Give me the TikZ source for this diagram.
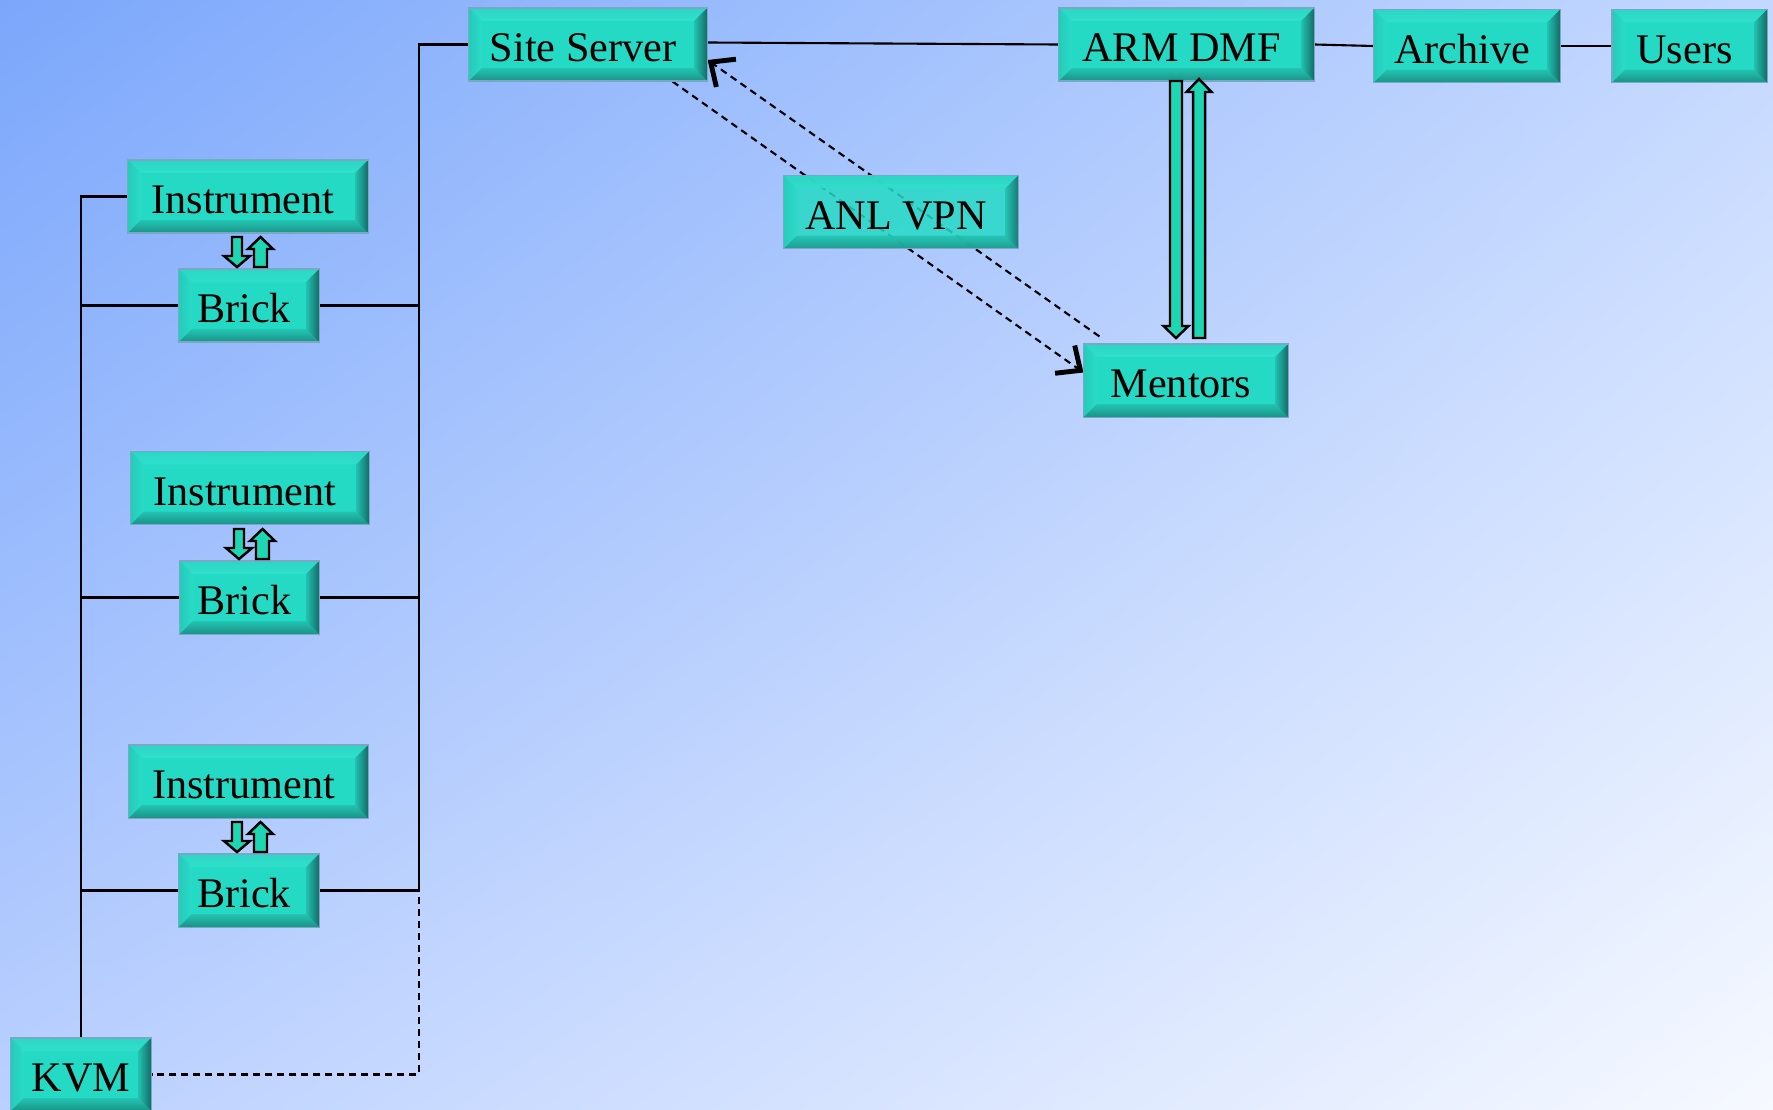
\documentclass[tikz,border=0pt]{standalone}
\usepackage{fontspec}
\setmainfont{Liberation Serif}
\usetikzlibrary{arrows.meta,calc,shadings}
\definecolor{boxfill}{HTML}{25DAC5}
\definecolor{bevtopO}{HTML}{2CD6C4}
\definecolor{bevtopM}{HTML}{5EF5EC}
\definecolor{bevtopI}{HTML}{30DFCD}
\definecolor{bevleftO}{HTML}{24CCB9}
\definecolor{bevleftI}{HTML}{2ADBC8}
\definecolor{bevbotI}{HTML}{22C4B2}
\definecolor{bevbotO}{HTML}{1A9286}
\definecolor{bevrightI}{HTML}{22C2B1}
\definecolor{bevrightO}{HTML}{146C66}
\definecolor{boxedge}{HTML}{78A8C4}
\definecolor{arrfill}{HTML}{1FD6B2}
\definecolor{bgtl}{HTML}{7BA7FB}
\definecolor{bgtr}{HTML}{C4D8FF}
\definecolor{bgbl}{HTML}{BAD0FF}
\definecolor{bgbr}{HTML}{F6F9FF}
\pgfdeclarelayer{bgl}
\pgfdeclarelayer{mid}
\pgfsetlayers{bgl,mid,main}
\tikzset{
  bx/.style={rectangle, draw=boxedge, line width=0.3pt, fill=boxfill,
    inner sep=0pt, minimum height=0.73cm, text height=0.34cm, text depth=0cm,
    font=\fontsize{12}{14}\selectfont,
    execute at begin node={\kern-0.1cm},
    path picture={
      \coordinate (ppnw) at (path picture bounding box.north west);
      \coordinate (ppne) at (path picture bounding box.north east);
      \coordinate (ppsw) at (path picture bounding box.south west);
      \coordinate (ppse) at (path picture bounding box.south east);
      \shade[top color=bevtopO, middle color=bevtopM, bottom color=bevtopI] (ppnw) -- (ppne) -- ([shift={(-0.13cm,-0.13cm)}]ppne) -- ([shift={(0.13cm,-0.13cm)}]ppnw) -- cycle;
      \shade[left color=bevleftO, right color=bevleftI] (ppnw) -- ([shift={(0.13cm,-0.13cm)}]ppnw) -- ([shift={(0.13cm,0.13cm)}]ppsw) -- (ppsw) -- cycle;
      \shade[top color=bevbotI, bottom color=bevbotO] (ppsw) -- ([shift={(0.13cm,0.13cm)}]ppsw) -- ([shift={(-0.13cm,0.13cm)}]ppse) -- (ppse) -- cycle;
      \shade[left color=bevrightI, right color=bevrightO] (ppne) -- ([shift={(-0.13cm,-0.13cm)}]ppne) -- ([shift={(-0.13cm,0.13cm)}]ppse) -- (ppse) -- cycle;
    }},
  conn/.style={draw=black, line width=0.6pt},
  dconn/.style={draw=black, line width=0.6pt, dash pattern=on 0.07cm off 0.05cm},
  blk/.style={fill=arrfill, draw=black, line width=0.7pt, line join=miter},
  barb/.style={-{Straight Barb[length=0.19cm, width=0.34cm, line width=1.4pt]}}
}
% #1 x, #2 tail y, #3 tip y, #4 shaft half width, #5 head half width, #6 head length (signed)
\newcommand\blkarr[6]{%
  \pgfmathsetmacro\bxa{#1-#4}%
  \pgfmathsetmacro\bxb{#1+#4}%
  \pgfmathsetmacro\bxc{#1-#5}%
  \pgfmathsetmacro\bxd{#1+#5}%
  \pgfmathsetmacro\byh{#3-(#6)}%
  \draw[blk] (\bxa,#2) -- (\bxa,\byh) -- (\bxc,\byh) -- (#1,#3) -- (\bxd,\byh) -- (\bxb,\byh) -- (\bxb,#2) -- cycle;}
\begin{document}
\begin{tikzpicture}[x=0.01cm, y=-0.01cm]
\useasboundingbox (0,0) rectangle (1773,1109);
\begin{pgfonlayer}{bgl}
\shade[upper left=bgtl, upper right=bgtr, lower left=bgbl, lower right=bgbr] (0,0) rectangle (1773,1109);
\end{pgfonlayer}

% nodes
\node[bx, minimum width=2.38cm] (site) at (588,44.5) {Site Server};
\node[bx, minimum width=2.55cm] (arm) at (1186.5,44.5) {ARM DMF};
\node[bx, minimum width=1.86cm] (archive) at (1467,46) {Archive};
\node[bx, minimum width=1.55cm] (users) at (1689.5,46) {Users};
\node[bx, minimum width=2.34cm, fill opacity=0.85, text opacity=1] (vpn) at (901,212) {ANL VPN};
\node[bx, minimum width=2.04cm] (mentors) at (1186,380.5) {Mentors};
\node[bx, minimum width=2.40cm] (inst1) at (248,196.5) {Instrument};
\node[bx, minimum width=1.40cm] (brick1) at (249,305.5) {Brick};
\node[bx, minimum width=2.38cm] (inst2) at (250,488) {Instrument};
\node[bx, minimum width=1.39cm] (brick2) at (249.5,597.5) {Brick};
\node[bx, minimum width=2.39cm] (inst3) at (248.5,781.5) {Instrument};
\node[bx, minimum width=1.40cm] (brick3) at (249,890.5) {Brick};
\node[bx, minimum width=1.40cm] (kvm) at (81,1074.5) {\kern0.1cm KVM};

\coordinate (rb) at (419,885);

\begin{pgfonlayer}{mid}
% left bus
\draw[conn] (inst1.west) -| (kvm.north);
\foreach \b in {brick1,brick2,brick3}
  \draw[conn] (\b.west) -- (\b.west -| kvm.north);
% right bus
\draw[conn] (site.west) -| (rb);
\foreach \b in {brick1,brick2,brick3}
  \draw[conn] (\b.east) -- (\b.east -| rb);
\draw[dconn] (rb) |- (kvm.east);
% top chain
\draw[conn] ([yshift=0.02cm]site.east) -- (arm.west);
\draw[conn] (arm.east) -- (archive.west);
\draw[conn] (archive.east) -- (users.west);
% VPN dashed arrows
\draw[dconn, barb] ([xshift=-0.35cm]site.south east) -- ([yshift=0.08cm]mentors.west);
\draw[dconn, barb] ([shift={(0.16cm,0.07cm)}]mentors.north west) -- ([yshift=-0.155cm]site.east);
\end{pgfonlayer}

% block arrows ARM DMF <-> Mentors
\blkarr{1176}{81}{338}{6}{12.5}{12}
\blkarr{1199}{338}{79}{6}{12.5}{-13}

% small block arrows Instrument <-> Brick
\blkarr{237}{237}{267}{5}{13}{11}
\blkarr{260.5}{267}{237}{6.5}{12.5}{-12}
\blkarr{239}{529}{559}{5}{13}{11}
\blkarr{262.5}{559}{529}{6.5}{12.5}{-12}
\blkarr{237}{822}{852}{5}{13}{11}
\blkarr{260.5}{852}{822}{6.5}{12.5}{-12}
\end{tikzpicture}
\end{document}
